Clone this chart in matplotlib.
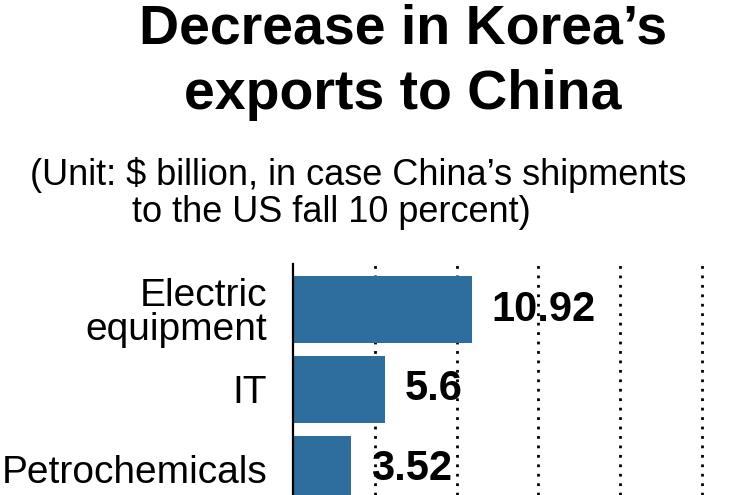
import matplotlib.pyplot as plt
import numpy as np

# data
categories = ["Electric\nequipment", "IT", "Petrochemicals"]
values = [10.92, 5.6, 3.52]
grid_ticks = [5, 10, 15, 20, 25]

plt.rcParams['font.family'] = ['Liberation Sans', 'DejaVu Sans']

fig = plt.figure(figsize=(7.5, 4.95), dpi=100)
ax = fig.add_axes([293 / 750, 0, 1 - 293 / 750, 1 - 264 / 495])

y_pos = np.arange(len(categories))
bars = ax.barh(y_pos, values, height=0.84, color='#2e6e9e', zorder=2)

ax.set_xlim(0, 27.93)
ax.set_ylim(2.32, -0.57)

# dotted vertical grid
ax.set_xticks(grid_ticks)
ax.tick_params(axis='x', length=0, labelbottom=False)
ax.grid(axis='x', color='black', linestyle=(0, (1, 2.4)), linewidth=2, zorder=1)

ax.set_yticks(y_pos, categories)
ax.tick_params(axis='y', length=0, pad=18.5, labelsize=28)
for t in ax.get_yticklabels():
    t.set_linespacing(0.95)

for side in ['top', 'right', 'bottom']:
    ax.spines[side].set_visible(False)
ax.spines['left'].set_linewidth(1.6)
ax.spines['left'].set_zorder(3)

# value labels
ax.bar_label(bars, labels=[f"{v:g}" for v in values], padding=14.5,
             fontsize=30, fontweight='bold')

# title and subtitle
fig.text(403 / 750, 1 - 44 / 495, "Decrease in Korea\u2019s", ha='center', va='baseline',
         fontsize=40, fontweight='bold')
fig.text(403 / 750, 1 - 109 / 495, "exports to China", ha='center', va='baseline',
         fontsize=40, fontweight='bold')
fig.text(30 / 750, 1 - 185 / 495, "(Unit: $ billion, in case China\u2019s shipments",
         ha='left', va='baseline', fontsize=26)
fig.text(132 / 750, 1 - 222 / 495, "to the US fall 10 percent)",
         ha='left', va='baseline', fontsize=26)

plt.savefig("out.png", dpi=100)
